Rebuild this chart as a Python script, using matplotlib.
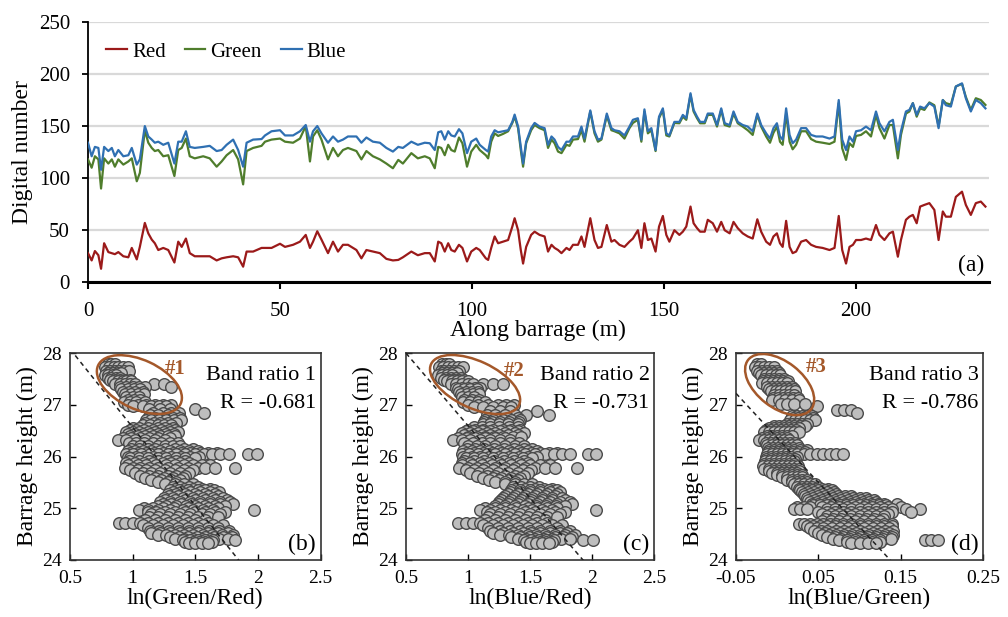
import numpy as np
import matplotlib
matplotlib.use("Agg")
import matplotlib.pyplot as plt
from matplotlib.patches import Ellipse
import matplotlib.transforms as mtransforms

plt.rcParams['font.family'] = ['Liberation Serif', 'DejaVu Serif']

# ---------------- Panel (a): digital numbers along the barrage ----------------
distance_m = [0.0, 0.95, 1.8, 2.7, 3.4, 4.2, 5.3, 6.2, 7.0, 7.9, 9.2, 10.5, 11.4, 12.7, 13.5, 14.8, 15.7, 16.6, 17.4, 18.3,
              19.6, 20.9, 22.5, 23.5, 24.4, 25.5, 26.5, 27.8, 30.0, 31.7, 33.5, 34.8, 36.1, 37.8, 39.1, 40.4, 41.3, 43.0, 45.2, 46.1,
              47.8, 50.0, 51.3, 53.4, 55.2, 56.7, 57.8, 58.6, 59.7, 60.8, 62.5, 63.8, 65.1, 66.4, 67.7, 69.9, 71.2, 72.5, 74.2, 76.0,
              77.7, 79.4, 80.8, 82.0, 84.2, 85.9, 87.7, 89.0, 90.3, 91.2, 92.0, 92.9, 93.8, 94.6, 95.5, 96.6, 97.5, 98.7, 99.8, 101.1,
              102.0, 103.6, 104.2, 105.0, 105.9, 106.8, 108.1, 109.4, 110.5, 111.1, 112.0, 112.7, 113.3, 114.1, 115.4, 116.3, 117.6, 118.9, 119.8, 120.7,
              121.5, 122.4, 123.3, 124.6, 125.4, 126.3, 127.6, 128.5, 129.3, 130.8, 131.9, 132.8, 133.7, 135.1, 136.3, 137.1, 138.4, 139.7, 141.0, 141.9,
              143.2, 144.1, 144.9, 145.8, 146.7, 147.8, 148.7, 149.7, 150.6, 151.4, 152.7,
              154.0, 154.9, 155.8, 156.9, 157.7, 158.6, 159.4, 160.6, 161.4, 162.7, 163.8, 164.9, 165.8, 167.1, 168.1, 169.2, 170.5, 171.8, 173.1, 174.3,
              175.3, 176.6, 177.6, 178.5, 179.4, 180.2, 180.9, 181.8, 182.7, 183.5, 184.4, 185.7, 187.0, 188.3, 189.6, 191.3, 193.1, 194.4, 195.5, 196.4,
              197.4, 198.3, 199.2, 200.0, 201.3, 202.6, 203.9, 205.2, 206.1, 207.4, 208.7, 209.6, 210.9, 211.7, 213.0, 213.9, 214.8, 215.8, 216.7, 217.8,
              219.1, 220.4, 221.5, 222.6, 223.4, 224.7, 226.0, 227.6, 228.6, 229.9, 231.2, 232.5, 233.7]

red_dn = [28, 21, 30, 26, 13, 37.5, 29, 28, 27, 29, 25, 24, 33, 22, 34, 57, 47, 41, 37.5, 31,
          33, 31, 19, 39, 34, 42, 28, 25, 25, 25, 21, 23, 24, 25, 24, 15, 29.5, 29.5, 33, 33,
          33, 37, 34, 36, 39, 45.5, 33, 39, 49, 41, 28, 39, 29.5, 36, 36, 31, 23, 31, 29.5, 28,
          22.5, 21, 21.5, 24, 29.5, 26, 28, 28, 20, 39, 37.5, 29.5, 37.5, 31, 29.5, 36, 33, 20, 29.5, 33,
          31, 23, 21.5, 33, 44, 37.5, 39, 40.6, 53.5, 61.5, 50, 31, 18, 34, 45.5, 48.6, 45.5, 44, 29.5, 36,
          33, 31, 28, 33, 31, 36, 36, 44, 34, 61.5, 40.6, 33, 34, 55, 39, 40.6, 36, 34, 39, 42,
          50, 33, 56.7, 40.6, 42, 29.5, 53.5, 63.7, 45.5, 39, 50,
          45.5, 48.6, 53.5, 72.7, 56.7, 52, 48.6, 48.6, 60, 56.7, 48.6, 58, 50, 47, 58, 52, 47, 44, 42, 60.5,
          48.6, 39, 36, 44, 47, 37.5, 34, 59, 34, 28, 29.5, 39, 40.6, 36, 34, 33, 31, 33, 63.7, 31,
          18, 34, 36, 40.6, 40.6, 42, 40.6, 55, 45.5, 40.6, 47, 48.6, 24.6, 40.6, 60, 63, 64.7, 56.7, 72.7, 74.3,
          76, 69.5, 40.6, 68, 63, 63, 82, 87, 74.3, 64.7, 76, 77.5, 72.7]

green_dn = [118, 110, 121, 118, 90, 119, 114, 118, 111, 118, 113, 116, 119, 97, 105, 146, 134, 129, 126, 127,
            121, 122, 102, 127, 129, 138, 121, 119, 121, 119, 111, 116, 122, 127, 118, 94, 126, 129, 131, 135,
            137, 138, 135, 134, 138, 150, 116, 140, 146, 137, 118, 129, 121, 127, 129, 126, 118, 126, 121, 118,
            114, 109.5, 117.5, 114, 124, 119, 121, 119, 109.5, 130, 129, 122, 132, 127, 125.5, 139, 133.5, 111, 125.5, 132,
            127, 122, 119, 135, 143, 140.5, 142.5, 145, 153, 159, 148, 127, 111, 133.5, 146, 151, 148, 146, 129, 137,
            133.5, 125.5, 124, 132, 131, 137, 137.5, 146, 135, 164, 143, 135, 137, 160, 146, 145, 143, 138, 148, 153,
            156, 135, 164, 143, 146, 126, 157.5, 165.5, 141, 140, 153,
            152.7, 159, 156, 180, 164, 157.5, 152.7, 152.7, 160.7, 160.7, 149.5, 165.5, 151, 149.5, 162, 152.7, 149.5, 146, 141.5, 160.7,
            149.5, 140, 134, 143.5, 149.5, 135, 132, 162, 135, 127.7, 132, 145, 145, 137.5, 135, 134, 132.8, 135, 172, 128.7,
            117.5, 133.5, 130, 140.5, 141.5, 145, 140, 160.7, 148, 138, 151, 151, 119, 141.5, 162, 164, 172, 159, 167, 165.5,
            172.7, 170, 149.5, 175, 172, 170.6, 188, 190.5, 178, 165.5, 176.7, 175, 170.3]

blue_dn = [134, 121, 130, 129, 108, 130, 126, 129, 121, 127, 121, 122, 129, 113, 118, 150, 140, 137, 134, 135,
           132, 134, 114, 135, 135, 145, 130, 129, 130, 131, 126, 127, 132, 137, 127, 111, 134, 137, 137.5, 141,
           145, 146, 141, 141, 145, 151, 135, 145, 150, 143, 134, 140, 135, 137, 140, 140, 134, 139, 135, 134,
           129, 125.5, 130, 129, 135, 132, 134, 133.5, 127, 144, 145, 137, 145, 141, 140, 147, 143, 124, 135, 138,
           132, 127, 125.5, 140, 146, 144, 145, 146, 154, 161, 149.5, 130, 114, 135, 148, 153, 149.5, 148, 132, 140,
           137, 130, 127, 135, 135, 140, 140, 149.5, 138, 165, 145, 137, 138, 162, 148, 146, 145, 141, 149.5, 156,
           157.5, 137, 166, 145, 148, 127, 159, 167, 143, 141, 154,
           154, 160.7, 157.5, 181.5, 165.5, 159, 154, 154, 162, 162, 151, 167, 152.7, 151, 164, 154, 151, 149.5, 145, 162,
           151, 143, 138, 148, 152.7, 140, 137, 167, 141.5, 133.5, 137, 148, 148, 141.5, 140, 140, 138, 140, 175, 137,
           127, 140, 135, 145, 146, 149.5, 146, 164, 152.7, 145, 154, 156, 127, 145, 164, 165.5, 172, 160.7, 168.7, 167,
           172, 168.7, 148, 175, 170, 168.7, 188, 191, 176.7, 164, 175, 172, 167]

band_names = ["Red", "Green", "Blue"]
band_colors = ["#9b1a1a", "#4f7d2c", "#2f70b2"]
a_xticks = [0, 50, 100, 150, 200]
a_yticks = [0, 50, 100, 150, 200, 250]

# ---------------- Panels (b)-(d): barrage height vs band ratios ----------------
# rows of (barrage height in m, list of ratio values read at that height)
ratio1_rows = [
    (27.78, [0.80, 0.83, 0.86]),
    (27.72, [0.78, 0.81, 0.85, 0.88, 0.92, 0.96]),
    (27.65, [0.79, 0.82, 0.86, 0.89, 0.93, 0.97]),
    (27.62, [0.80, 0.84, 0.88, 0.91]),
    (27.58, [0.78, 0.80, 0.84, 0.87]),
    (27.52, [0.80, 0.83, 0.87, 0.90]),
    (27.48, [0.82, 0.86, 0.90, 0.94, 0.98]),
    (27.45, [0.84, 0.88, 0.92, 0.95, 0.99]),
    (27.40, [0.86, 0.90, 0.94, 0.98, 1.02, 1.17, 1.25]),
    (27.35, [0.90, 0.95, 1.00, 1.05, 1.10, 1.31]),
    (27.30, [0.91, 0.96, 1.01, 1.06]),
    (27.25, [0.92, 0.97, 1.02, 1.08]),
    (27.20, [0.94, 0.99, 1.04, 1.09]),
    (27.15, [0.95, 1.00, 1.05]),
    (27.10, [0.96, 1.01, 1.06]),
    (27.05, [0.93, 0.98, 1.03, 1.10]),
    (27.00, [0.96, 1.04, 1.11, 1.18, 1.24, 1.31]),
    (26.97, [1.00, 1.08, 1.15, 1.21, 1.27]),
    (26.91, [1.13, 1.22, 1.30, 1.50]),
    (26.85, [1.16, 1.24, 1.31, 1.37, 1.57]),
    (26.80, [1.14, 1.20, 1.28, 1.34]),
    (26.75, [1.12, 1.18, 1.25, 1.32, 1.38]),
    (26.70, [1.11, 1.15, 1.21, 1.27, 1.33, 1.39]),
    (26.65, [1.10, 1.17, 1.22, 1.28, 1.35]),
    (26.60, [1.08, 1.14, 1.20, 1.25, 1.31]),
    (26.55, [1.00, 1.05, 1.12, 1.20, 1.26, 1.32]),
    (26.52, [0.98, 1.03, 1.09, 1.16, 1.23, 1.29, 1.34]),
    (26.48, [0.95, 1.00, 1.05, 1.12, 1.18, 1.25, 1.30, 1.36]),
    (26.44, [0.96, 1.02, 1.08, 1.14, 1.20, 1.27, 1.33]),
    (26.40, [0.98, 1.04, 1.10, 1.16, 1.22, 1.28, 1.34]),
    (26.36, [0.92, 0.99, 1.06, 1.13, 1.20, 1.30]),
    (26.32, [0.88, 0.95, 1.02, 1.10, 1.18, 1.26]),
    (26.26, [0.97, 1.03, 1.09, 1.16, 1.23, 1.30, 1.36]),
    (26.20, [1.00, 1.06, 1.12, 1.20, 1.26, 1.32, 1.38]),
    (26.15, [0.99, 1.05, 1.12, 1.18, 1.26, 1.34, 1.41, 1.48]),
    (26.10, [0.96, 1.02, 1.08, 1.15, 1.22, 1.30, 1.38, 1.45, 1.52]),
    (26.07, [0.98, 1.04, 1.11, 1.17, 1.24, 1.32, 1.39, 1.46, 1.54, 1.60, 1.67]),
    (26.04, [0.95, 1.00, 1.07, 1.14, 1.20, 1.28, 1.35, 1.42, 1.50, 1.57, 1.63, 1.70, 1.77, 1.92, 1.99]),
    (26.00, [0.96, 1.03, 1.09, 1.16, 1.24, 1.31, 1.39, 1.46, 1.53]),
    (25.97, [0.98, 1.05, 1.12, 1.20, 1.27, 1.35, 1.42, 1.50]),
    (25.92, [0.97, 1.05, 1.13, 1.20, 1.28, 1.35, 1.42]),
    (25.88, [0.95, 1.02, 1.09, 1.16, 1.24, 1.31, 1.38, 1.45]),
    (25.83, [0.96, 1.04, 1.11, 1.19, 1.27, 1.34, 1.41, 1.48, 1.55, 1.62]),
    (25.78, [0.94, 1.00, 1.06, 1.13, 1.20, 1.28, 1.36, 1.44, 1.52, 1.58, 1.66, 1.82]),
    (25.73, [0.98, 1.04, 1.11, 1.18, 1.26, 1.34, 1.41, 1.48]),
    (25.68, [1.02, 1.08, 1.15, 1.22, 1.30, 1.38, 1.45]),
    (25.63, [1.06, 1.13, 1.20, 1.28, 1.35, 1.42]),
    (25.58, [1.10, 1.18, 1.25, 1.32, 1.40]),
    (25.54, [1.15, 1.23, 1.31, 1.38]),
    (25.50, [1.20, 1.28, 1.35]),
    (25.46, [1.26, 1.34, 1.41, 1.48]),
    (25.42, [1.32, 1.38, 1.45, 1.52]),
    (25.38, [1.34, 1.41, 1.48, 1.55, 1.62]),
    (25.35, [1.30, 1.37, 1.44, 1.52, 1.58, 1.65]),
    (25.31, [1.32, 1.39, 1.46, 1.54, 1.62, 1.69]),
    (25.28, [1.28, 1.35, 1.42, 1.50, 1.58, 1.66]),
    (25.24, [1.29, 1.36, 1.44, 1.52, 1.60, 1.68]),
    (25.20, [1.25, 1.32, 1.40, 1.48, 1.56, 1.64, 1.72]),
    (25.16, [1.26, 1.34, 1.42, 1.50, 1.58, 1.66, 1.75]),
    (25.12, [1.22, 1.30, 1.38, 1.46, 1.54, 1.62, 1.70, 1.78]),
    (25.08, [1.24, 1.31, 1.39, 1.47, 1.54, 1.62, 1.70, 1.80]),
    (25.05, [1.20, 1.27, 1.35, 1.43, 1.50, 1.58, 1.66, 1.74]),
    (25.01, [1.09, 1.16, 1.24, 1.33, 1.44, 1.52, 1.60, 1.68]),
    (24.97, [1.05, 1.12, 1.20, 1.30, 1.40, 1.48, 1.56, 1.64, 1.97]),
    (24.92, [1.12, 1.19, 1.26, 1.34, 1.42, 1.50, 1.58, 1.66, 1.74]),
    (24.88, [1.15, 1.22, 1.30, 1.38, 1.46, 1.55, 1.62, 1.70]),
    (24.83, [1.13, 1.20, 1.28, 1.36, 1.44, 1.52, 1.60, 1.68]),
    (24.78, [1.10, 1.18, 1.26, 1.34, 1.42, 1.50, 1.58]),
    (24.72, [0.89, 0.94, 1.00, 1.06, 1.12, 1.20, 1.28, 1.36, 1.44, 1.52, 1.60]),
    (24.67, [1.08, 1.16, 1.24, 1.32, 1.40, 1.48, 1.56, 1.64, 1.72]),
    (24.62, [1.12, 1.20, 1.28, 1.36, 1.44, 1.52, 1.60, 1.68]),
    (24.57, [1.14, 1.21, 1.29, 1.37, 1.45, 1.53, 1.61, 1.69, 1.77]),
    (24.52, [1.15, 1.22, 1.30, 1.38, 1.45, 1.52, 1.60, 1.68, 1.76]),
    (24.48, [1.20, 1.27, 1.34, 1.41, 1.48, 1.56, 1.63, 1.71, 1.80]),
    (24.44, [1.30, 1.37, 1.44, 1.51, 1.58, 1.65, 1.72, 1.79]),
    (24.41, [1.34, 1.41, 1.48, 1.55, 1.62, 1.69, 1.76]),
    (24.38, [1.40, 1.46, 1.52, 1.58, 1.64, 1.82]),
    (24.35, [1.42, 1.48, 1.53, 1.58, 1.63]),
    (24.33, [1.45, 1.50, 1.55, 1.60]),
]

ratio2_rows = [
    (27.78, [0.79, 0.82, 0.85]),
    (27.72, [0.77, 0.80, 0.84, 0.88, 0.92, 0.96]),
    (27.65, [0.78, 0.81, 0.85, 0.89, 0.93]),
    (27.62, [0.79, 0.83, 0.87, 0.91]),
    (27.58, [0.76, 0.79, 0.83, 0.87]),
    (27.52, [0.78, 0.82, 0.86, 0.90, 0.94]),
    (27.48, [0.81, 0.85, 0.89, 0.93, 0.97]),
    (27.45, [0.83, 0.87, 0.91, 0.95, 1.00]),
    (27.40, [0.86, 0.90, 0.95, 1.00, 1.04, 1.12, 1.20, 1.28]),
    (27.33, [0.90, 0.95, 1.00, 1.06, 1.10]),
    (27.30, [0.92, 0.97, 1.02, 1.07]),
    (27.25, [0.93, 0.98, 1.03, 1.08]),
    (27.20, [0.94, 0.99, 1.04, 1.09]),
    (27.15, [0.95, 1.00, 1.05]),
    (27.10, [0.97, 1.03, 1.09]),
    (27.05, [0.96, 1.02, 1.08, 1.14]),
    (27.00, [1.00, 1.08, 1.16, 1.24, 1.31, 1.37]),
    (26.96, [1.05, 1.12, 1.20, 1.28, 1.35]),
    (26.88, [1.18, 1.26, 1.34, 1.56]),
    (26.80, [1.15, 1.22, 1.30, 1.38, 1.47, 1.65]),
    (26.75, [1.16, 1.24, 1.32, 1.40]),
    (26.70, [1.14, 1.20, 1.28, 1.35, 1.42]),
    (26.66, [1.13, 1.19, 1.26, 1.33, 1.41]),
    (26.62, [1.12, 1.18, 1.25, 1.32, 1.40]),
    (26.57, [1.05, 1.11, 1.18, 1.25, 1.33, 1.40]),
    (26.52, [1.00, 1.06, 1.12, 1.20, 1.28, 1.35, 1.42]),
    (26.49, [0.98, 1.04, 1.11, 1.18, 1.26, 1.33, 1.40]),
    (26.45, [0.95, 1.02, 1.08, 1.15, 1.22, 1.30, 1.38, 1.45]),
    (26.41, [0.97, 1.04, 1.11, 1.18, 1.25, 1.32, 1.40]),
    (26.38, [1.00, 1.07, 1.14, 1.21, 1.28, 1.36, 1.43]),
    (26.35, [0.92, 0.99, 1.06, 1.14, 1.22, 1.30]),
    (26.32, [0.88, 0.95, 1.02, 1.10, 1.18, 1.26, 1.34]),
    (26.26, [0.97, 1.04, 1.11, 1.18, 1.26, 1.34, 1.41]),
    (26.20, [1.00, 1.07, 1.14, 1.22, 1.30, 1.38, 1.45]),
    (26.15, [0.99, 1.06, 1.13, 1.21, 1.29, 1.37, 1.45, 1.52]),
    (26.10, [0.96, 1.03, 1.10, 1.17, 1.25, 1.33, 1.41, 1.48, 1.56]),
    (26.07, [0.98, 1.05, 1.12, 1.19, 1.27, 1.35, 1.43, 1.51, 1.58, 1.65, 1.72]),
    (26.04, [0.95, 1.01, 1.08, 1.15, 1.22, 1.30, 1.38, 1.46, 1.54, 1.62, 1.69, 1.76, 1.82, 1.97, 2.03]),
    (26.00, [0.96, 1.03, 1.10, 1.17, 1.25, 1.33, 1.41, 1.48, 1.56]),
    (25.97, [0.98, 1.05, 1.12, 1.20, 1.28, 1.36, 1.44, 1.52]),
    (25.92, [0.97, 1.05, 1.13, 1.21, 1.29, 1.37, 1.45]),
    (25.88, [0.95, 1.02, 1.10, 1.17, 1.25, 1.33, 1.41, 1.48]),
    (25.83, [0.95, 1.03, 1.11, 1.19, 1.27, 1.35, 1.43, 1.50, 1.58, 1.66]),
    (25.78, [0.93, 1.00, 1.07, 1.14, 1.22, 1.30, 1.38, 1.46, 1.54, 1.62, 1.70, 1.88]),
    (25.73, [0.98, 1.05, 1.12, 1.20, 1.28, 1.36, 1.44, 1.51]),
    (25.68, [1.02, 1.09, 1.16, 1.24, 1.32, 1.40, 1.48]),
    (25.63, [1.07, 1.15, 1.22, 1.30, 1.38, 1.45]),
    (25.58, [1.12, 1.20, 1.27, 1.35, 1.42]),
    (25.54, [1.17, 1.25, 1.33, 1.40]),
    (25.50, [1.22, 1.30, 1.38]),
    (25.46, [1.30, 1.38, 1.45, 1.52]),
    (25.42, [1.36, 1.43, 1.50, 1.57]),
    (25.38, [1.38, 1.46, 1.54, 1.61, 1.68]),
    (25.35, [1.35, 1.42, 1.50, 1.58, 1.65, 1.72]),
    (25.31, [1.34, 1.42, 1.50, 1.58, 1.66, 1.74]),
    (25.28, [1.32, 1.40, 1.48, 1.56, 1.64, 1.72]),
    (25.24, [1.30, 1.38, 1.46, 1.54, 1.62, 1.70]),
    (25.20, [1.28, 1.36, 1.44, 1.52, 1.60, 1.68, 1.76]),
    (25.16, [1.27, 1.35, 1.43, 1.51, 1.60, 1.68, 1.78]),
    (25.12, [1.25, 1.33, 1.41, 1.50, 1.58, 1.66, 1.74, 1.82]),
    (25.08, [1.24, 1.32, 1.40, 1.48, 1.56, 1.64, 1.72, 1.84]),
    (25.05, [1.22, 1.30, 1.38, 1.46, 1.55, 1.63, 1.71, 1.78]),
    (25.01, [1.14, 1.22, 1.30, 1.39, 1.48, 1.56, 1.64, 1.72]),
    (24.97, [1.10, 1.18, 1.26, 1.35, 1.44, 1.52, 1.60, 1.68, 2.03]),
    (24.92, [1.15, 1.22, 1.30, 1.38, 1.46, 1.54, 1.62, 1.70, 1.78]),
    (24.88, [1.18, 1.26, 1.34, 1.42, 1.50, 1.58, 1.66, 1.74]),
    (24.83, [1.16, 1.24, 1.32, 1.40, 1.48, 1.56, 1.64, 1.72]),
    (24.78, [1.14, 1.22, 1.30, 1.38, 1.46, 1.54, 1.62]),
    (24.72, [0.92, 0.98, 1.04, 1.10, 1.16, 1.24, 1.32, 1.40, 1.48, 1.56, 1.64]),
    (24.67, [1.12, 1.20, 1.28, 1.36, 1.44, 1.52, 1.60, 1.68, 1.76]),
    (24.62, [1.16, 1.24, 1.32, 1.40, 1.48, 1.56, 1.64, 1.72]),
    (24.57, [1.18, 1.26, 1.34, 1.42, 1.50, 1.58, 1.66, 1.74, 1.82]),
    (24.52, [1.20, 1.28, 1.36, 1.44, 1.51, 1.58, 1.66, 1.74, 1.80]),
    (24.48, [1.26, 1.33, 1.40, 1.48, 1.55, 1.62, 1.70, 1.78, 1.86]),
    (24.44, [1.35, 1.42, 1.49, 1.56, 1.63, 1.70, 1.77, 1.84]),
    (24.41, [1.40, 1.47, 1.54, 1.61, 1.68, 1.75, 1.82]),
    (24.38, [1.45, 1.51, 1.57, 1.63, 1.69, 1.93, 2.01]),
    (24.35, [1.47, 1.53, 1.58, 1.63, 1.68]),
    (24.33, [1.50, 1.55, 1.60, 1.65]),
]

ratio3_rows = [
    (27.78, [-0.025, -0.020]),
    (27.72, [-0.027, -0.022, -0.016, -0.010, -0.004]),
    (27.65, [-0.024, -0.018, -0.012, -0.006, 0.000]),
    (27.61, [-0.022, -0.016, -0.010, -0.004, 0.002]),
    (27.58, [-0.020, -0.014, -0.008, -0.002, 0.004]),
    (27.50, [-0.016, -0.010, -0.004, 0.002, 0.008]),
    (27.46, [-0.017, -0.011, -0.005, 0.001, 0.007, 0.013]),
    (27.42, [-0.018, -0.012, -0.006, 0.000, 0.006, 0.012]),
    (27.35, [-0.012, -0.006, 0.000, 0.006, 0.012, 0.018]),
    (27.31, [-0.010, -0.004, 0.002, 0.008, 0.014, 0.020]),
    (27.27, [-0.008, -0.002, 0.004, 0.010, 0.016, 0.022]),
    (27.18, [-0.004, 0.002, 0.008, 0.014, 0.020]),
    (27.14, [-0.005, 0.001, 0.007, 0.013, 0.019, 0.025]),
    (27.10, [-0.006, 0.002, 0.010, 0.018, 0.026]),
    (27.02, [0.005, 0.012, 0.020, 0.034]),
    (26.97, [0.048]),
    (26.90, [0.073, 0.081, 0.090]),
    (26.85, [0.097]),
    (26.78, [0.018, 0.024, 0.030, 0.036, 0.042]),
    (26.74, [0.019, 0.025, 0.031, 0.037, 0.043]),
    (26.70, [0.016, 0.022, 0.028, 0.034, 0.040, 0.046]),
    (26.62, [0.012, 0.018, 0.024, 0.030, 0.036]),
    (26.58, [-0.004, 0.002, 0.008, 0.014, 0.020, 0.028, 0.034]),
    (26.55, [-0.010, -0.004, 0.002, 0.008, 0.014, 0.020, 0.026]),
    (26.51, [-0.013, -0.007, -0.001, 0.005, 0.011, 0.017, 0.023]),
    (26.47, [-0.016, -0.010, -0.004, 0.002, 0.008, 0.014, 0.020, 0.026]),
    (26.40, [-0.012, -0.006, 0.000, 0.006, 0.012, 0.018]),
    (26.36, [-0.018, -0.012, -0.006, 0.000, 0.006, 0.012]),
    (26.32, [-0.022, -0.016, -0.010, -0.004, 0.002, 0.008, 0.014]),
    (26.27, [-0.014, -0.008, -0.002, 0.004, 0.010, 0.016, 0.022]),
    (26.22, [-0.012, -0.006, 0.000, 0.006, 0.012, 0.018, 0.024]),
    (26.17, [-0.011, -0.005, 0.001, 0.007, 0.013, 0.019, 0.026]),
    (26.12, [-0.010, -0.004, 0.002, 0.008, 0.014, 0.020, 0.028, 0.036]),
    (26.08, [-0.011, -0.005, 0.001, 0.007, 0.013, 0.019, 0.026, 0.034]),
    (26.04, [-0.012, -0.006, 0.000, 0.006, 0.012, 0.018, 0.024, 0.032, 0.040, 0.048, 0.056, 0.064, 0.072, 0.080]),
    (26.00, [-0.013, -0.007, -0.001, 0.005, 0.011, 0.017, 0.024]),
    (25.96, [-0.014, -0.008, -0.002, 0.004, 0.010, 0.016, 0.022]),
    (25.91, [-0.015, -0.009, -0.003, 0.003, 0.009, 0.015, 0.021]),
    (25.86, [-0.016, -0.010, -0.004, 0.002, 0.008, 0.014, 0.020]),
    (25.81, [-0.017, -0.011, -0.005, 0.001, 0.007, 0.013, 0.019, 0.025]),
    (25.76, [-0.016, -0.010, -0.004, 0.002, 0.008, 0.014, 0.020, 0.026]),
    (25.72, [-0.010, -0.004, 0.002, 0.008, 0.014, 0.020, 0.026]),
    (25.68, [-0.006, 0.000, 0.006, 0.012, 0.018, 0.024]),
    (25.64, [0.000, 0.006, 0.012, 0.018, 0.024, 0.030]),
    (25.60, [0.006, 0.012, 0.018, 0.024, 0.030]),
    (25.55, [0.012, 0.018, 0.024, 0.030, 0.036]),
    (25.50, [0.018, 0.024, 0.030, 0.036]),
    (25.46, [0.020, 0.027, 0.033, 0.040, 0.046]),
    (25.42, [0.024, 0.030, 0.036, 0.042, 0.050]),
    (25.38, [0.026, 0.033, 0.040, 0.047, 0.054, 0.062]),
    (25.35, [0.028, 0.035, 0.042, 0.050, 0.058, 0.066]),
    (25.31, [0.030, 0.037, 0.045, 0.053, 0.061, 0.069]),
    (25.27, [0.032, 0.040, 0.048, 0.056, 0.064, 0.072]),
    (25.23, [0.034, 0.042, 0.050, 0.058, 0.066, 0.074, 0.082, 0.090]),
    (25.20, [0.036, 0.044, 0.052, 0.060, 0.068, 0.076, 0.084, 0.092, 0.100, 0.108]),
    (25.16, [0.038, 0.046, 0.054, 0.062, 0.070, 0.078, 0.086, 0.094, 0.102, 0.110, 0.118]),
    (25.13, [0.040, 0.048, 0.056, 0.064, 0.072, 0.080, 0.088, 0.096, 0.104, 0.112, 0.120]),
    (25.09, [0.042, 0.050, 0.058, 0.066, 0.074, 0.082, 0.090, 0.098, 0.106, 0.114, 0.122, 0.130, 0.145]),
    (25.06, [0.044, 0.052, 0.060, 0.068, 0.076, 0.084, 0.092, 0.100, 0.108, 0.116, 0.124, 0.132]),
    (25.02, [0.024, 0.032, 0.040, 0.055, 0.065, 0.075, 0.085, 0.095, 0.105, 0.115, 0.125, 0.135, 0.150]),
    (24.98, [0.020, 0.028, 0.036, 0.060, 0.070, 0.080, 0.090, 0.100, 0.110, 0.120, 0.130, 0.140, 0.156, 0.173]),
    (24.92, [0.050, 0.060, 0.070, 0.080, 0.090, 0.100, 0.110, 0.120, 0.130, 0.140, 0.162]),
    (24.88, [0.055, 0.065, 0.075, 0.085, 0.095, 0.105, 0.115, 0.125, 0.135]),
    (24.85, [0.060, 0.070, 0.080, 0.090, 0.100, 0.110, 0.120, 0.130]),
    (24.80, [0.058, 0.068, 0.078, 0.088, 0.098, 0.108, 0.118, 0.128]),
    (24.75, [0.055, 0.065, 0.075, 0.085, 0.095, 0.105, 0.115, 0.125]),
    (24.70, [0.027, 0.033, 0.040, 0.048, 0.056, 0.064, 0.072, 0.080, 0.090, 0.100, 0.110, 0.120, 0.130, 0.140]),
    (24.66, [0.036, 0.044, 0.052, 0.060, 0.070, 0.080, 0.090, 0.100, 0.110, 0.120, 0.130, 0.140]),
    (24.62, [0.040, 0.048, 0.056, 0.066, 0.076, 0.086, 0.096, 0.106, 0.116, 0.126, 0.136]),
    (24.57, [0.045, 0.053, 0.061, 0.071, 0.081, 0.091, 0.101, 0.111, 0.121, 0.131, 0.141]),
    (24.52, [0.050, 0.058, 0.066, 0.076, 0.086, 0.096, 0.106, 0.116, 0.126, 0.136]),
    (24.48, [0.055, 0.063, 0.071, 0.081, 0.091, 0.101, 0.111, 0.121, 0.131, 0.141]),
    (24.44, [0.060, 0.070, 0.080, 0.090, 0.100, 0.110, 0.120, 0.130, 0.140]),
    (24.41, [0.068, 0.078, 0.088, 0.098, 0.108, 0.118, 0.128, 0.138]),
    (24.38, [0.075, 0.085, 0.095, 0.105, 0.115, 0.125, 0.179, 0.187, 0.195]),
    (24.35, [0.085, 0.095, 0.105, 0.115, 0.125]),
    (24.33, [0.090, 0.100, 0.110, 0.120]),
]

ratio_labels = ["ln(Green/Red)", "ln(Blue/Red)", "ln(Blue/Green)"]
ratio_titles = ["Band ratio 1", "Band ratio 2", "Band ratio 3"]
r_values = ["-0.681", "-0.731", "-0.786"]
panel_tags = ["(b)", "(c)", "(d)"]
group_tags = ["#1", "#2", "#3"]
fit_slopes = [-3.03, -2.80, -17.2]
fit_intercepts = [29.594, 29.396, 26.36]
x_limits = [(0.5, 2.5), (0.5, 2.5), (-0.05, 0.25)]
x_ticks = [[0.5, 1, 1.5, 2, 2.5], [0.5, 1, 1.5, 2, 2.5], [-0.05, 0.05, 0.15, 0.25]]
x_ticklabels = [["0.5", "1", "1.5", "2", "2.5"], ["0.5", "1", "1.5", "2", "2.5"],
                ["-0.05", "0.05", "0.15", "0.25"]]
h_ticks = [24, 25, 26, 27, 28]
# ellipse: centre (data), width/height (px), angle (deg)
ellipse_centres = [(1.054, 27.39), (1.057, 27.39), (0.003, 27.39)]
ellipse_sizes = [(91, 49), (97, 47), (80, 46)]
ellipse_angles = [-25, -25, -38]
group_tag_pos = [(1.342, 27.69), (1.372, 27.65), (0.048, 27.72)]

W, H = 1008, 617
fig = plt.figure(figsize=(W / 100, H / 100), dpi=100)

# ---------------- top panel ----------------
axa = fig.add_axes([88 / W, 1 - 282.3 / H, (988.5 - 88) / W, (282.3 - 21.9) / H])
for name, col, vals in zip(band_names, band_colors, [red_dn, green_dn, blue_dn]):
    axa.plot(distance_m, vals, color=col, lw=1.6, label=name, zorder=3)
axa.set_xlim(0, 234.5)
axa.set_ylim(0, 250)
axa.set_xticks(a_xticks)
axa.set_yticks(a_yticks)
axa.yaxis.grid(True, color='#d9d9d9', lw=1.6, zorder=0)
axa.set_axisbelow(True)
for s in ['top', 'right']:
    axa.spines[s].set_visible(False)
axa.spines['left'].set_linewidth(1.3)
axa.spines['bottom'].set_linewidth(2.2)
axa.tick_params(axis='x', direction='out', length=5, width=1.5, pad=9, labelsize=15)
axa.tick_params(axis='y', direction='out', length=4, width=1.3, pad=9, labelsize=15)
axa.set_xlabel("Along barrage (m)", fontsize=17, labelpad=-1)
axa.set_ylabel("Digital number", fontsize=17, labelpad=4)
leg = axa.legend(loc='center left', bbox_to_anchor=(0.02, 0.885), ncol=3, frameon=False,
                 fontsize=15, handlelength=1.0, handletextpad=0.25, columnspacing=0.9,
                 borderpad=0, borderaxespad=0)
for l in leg.get_lines():
    l.set_linewidth(1.6)
axa.text(0.995, 0.065, "(a)", transform=axa.transAxes, ha='right', va='center', fontsize=17)

# ---------------- bottom panels ----------------
lefts = [70, 406, 736]
rights = [320.5, 654, 983]
for i, rows in enumerate([ratio1_rows, ratio2_rows, ratio3_rows]):
    ax = fig.add_axes([lefts[i] / W, 1 - 560 / H, (rights[i] - lefts[i]) / W, (560 - 353) / H])
    xs = [x for h, row in rows for x in row]
    ys = [h for h, row in rows for x in row]
    ax.scatter(xs, ys, s=70, facecolor='#bebebe', edgecolor='#4a4a4a', linewidths=1.0, zorder=2)
    ax.set_xlim(*x_limits[i])
    ax.set_ylim(24, 28)
    xx = np.array(x_limits[i])
    ax.plot(xx, fit_slopes[i] * xx + fit_intercepts[i], ls=(0, (3, 2.5)), color='#222222', lw=1.1, zorder=4)
    ax.set_xticks(x_ticks[i])
    ax.set_xticklabels(x_ticklabels[i])
    ax.set_yticks(h_ticks)
    for s in ax.spines.values():
        s.set_linewidth(1.2)
        s.set_color('#333333')
    ax.tick_params(direction='in', length=4, width=1.0, labelsize=14, pad=7)
    ax.tick_params(axis='y', pad=6)
    ax.set_xlabel(ratio_labels[i], fontsize=17, labelpad=1)
    ax.set_ylabel("Barrage height (m)", fontsize=17, labelpad=3)
    ax.text(0.982, 0.893, ratio_titles[i], transform=ax.transAxes, ha='right', va='center', fontsize=16, zorder=7)
    ax.text(0.982, 0.757, "R = " + r_values[i], transform=ax.transAxes, ha='right', va='center', fontsize=16, zorder=7)
    ax.text(0.982, 0.075, panel_tags[i], transform=ax.transAxes, ha='right', va='center', fontsize=17, zorder=7)
    cx, cy = ellipse_centres[i]
    tr = fig.dpi_scale_trans + mtransforms.ScaledTranslation(cx, cy, ax.transData)
    ell = Ellipse((0, 0), ellipse_sizes[i][0] / 100, ellipse_sizes[i][1] / 100, angle=ellipse_angles[i],
                  transform=tr, fill=False, edgecolor='#a4582a', lw=1.8, zorder=5)
    ax.add_patch(ell)
    gx, gy = group_tag_pos[i]
    ax.text(gx, gy, group_tags[i], ha='center', va='center', fontsize=15, fontweight='bold',
            color='#a4582a', zorder=6)

fig.savefig("out.png", dpi=100)
